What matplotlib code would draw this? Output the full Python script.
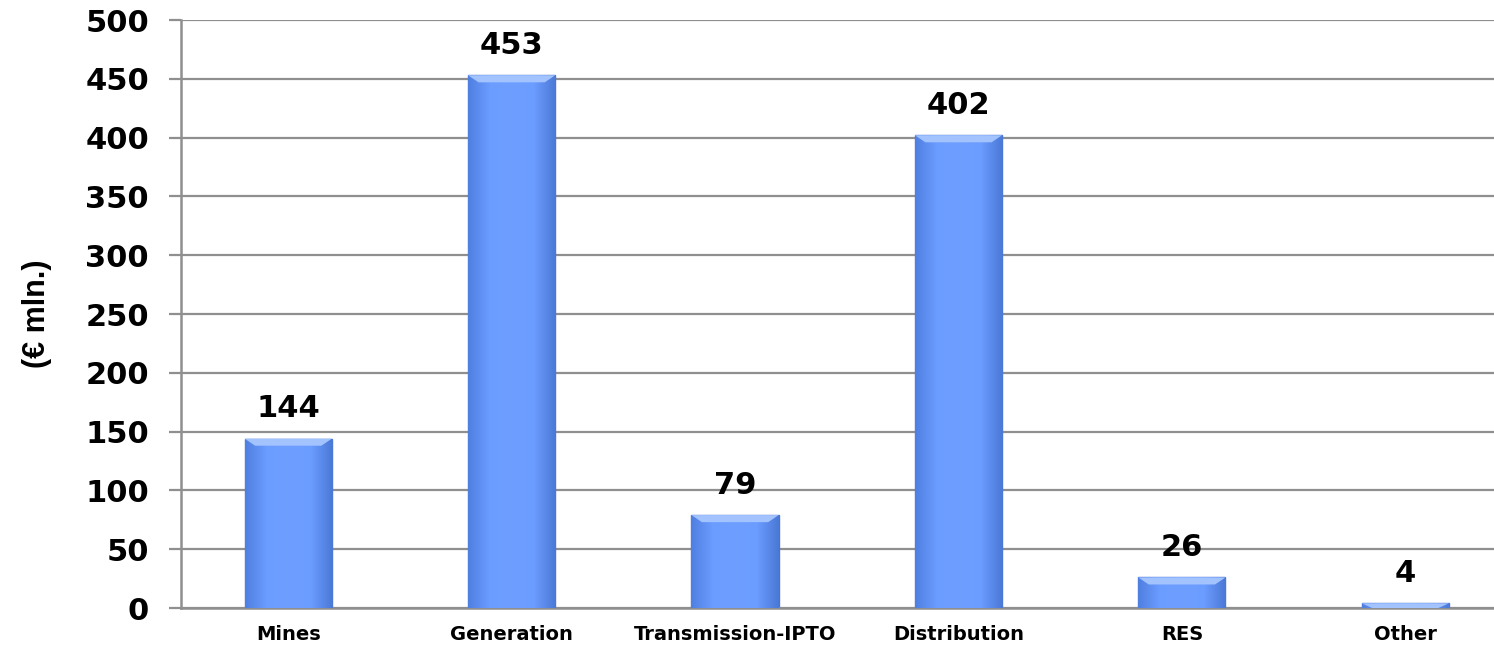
import numpy as np
import matplotlib
matplotlib.use('Agg')
import matplotlib.pyplot as plt
from matplotlib.colors import LinearSegmentedColormap

categories = ['Mines', 'Generation', 'Transmission-IPTO', 'Distribution', 'RES', 'Other']
values = [144, 453, 79, 402, 26, 4]
y_ticks = [0, 50, 100, 150, 200, 250, 300, 350, 400, 450, 500]

grid_color = '#8f8f8f'
bar_cmap = LinearSegmentedColormap.from_list(
    'bar', ['#4f7fe0', '#6b9cff', '#6e9fff', '#6b9cff', '#4a78d6'])


def shade_bar(ax, rect):
    # horizontal gradient clipped to the bar, plus a light bevel on top
    x0, y0 = rect.get_x(), rect.get_y()
    w, h = rect.get_width(), rect.get_height()
    grad = np.linspace(0, 1, 256).reshape(1, -1)
    im = ax.imshow(grad, cmap=bar_cmap, aspect='auto',
                   extent=(x0, x0 + w, y0, y0 + h), zorder=3)
    im.set_clip_path(rect)
    bevel = min(h, 6)
    top = plt.Polygon([(x0, y0 + h), (x0 + w, y0 + h),
                       (x0 + w * 0.88, y0 + h - bevel),
                       (x0 + w * 0.12, y0 + h - bevel)],
                      closed=True, facecolor='#a3c3ff', edgecolor='none',
                      zorder=4)
    ax.add_patch(top)


fig = plt.figure(figsize=(14.94, 6.46), dpi=100)
ax = fig.add_axes([181 / 1494, 38 / 646, 1336 / 1494, 588 / 646])

x = np.arange(len(categories))
bars = ax.bar(x, values, width=0.39, color='#6b9cff', edgecolor='#4a74c9',
              linewidth=1.0, zorder=2)
for rect in bars:
    shade_bar(ax, rect)

for xi, v in zip(x, values):
    ax.annotate(str(v), (xi, v), xytext=(0, 11), textcoords='offset points',
                ha='center', va='bottom', fontsize=22, fontweight='bold',
                color='black', zorder=5)

ax.set_xlim(-0.48, 5.5)
ax.set_ylim(0, 500)
ax.set_yticks(y_ticks)
ax.set_yticklabels([str(t) for t in y_ticks], fontsize=22, fontweight='bold')
ax.set_xticks(x)
ax.set_xticklabels(categories, fontsize=14, fontweight='bold')

ax.yaxis.grid(True, color=grid_color, linewidth=1.6, zorder=0)
ax.set_axisbelow(True)
for side in ['top', 'right']:
    ax.spines[side].set_visible(False)
ax.spines['left'].set_color(grid_color)
ax.spines['left'].set_linewidth(1.8)
ax.spines['bottom'].set_color(grid_color)
ax.spines['bottom'].set_linewidth(1.8)
ax.tick_params(axis='y', direction='out', length=9, width=1.6, color=grid_color,
               pad=14)
ax.tick_params(axis='x', length=0, pad=12)

ax.set_ylabel('(€ mln.)', fontsize=22, fontweight='bold',
              family='Liberation Sans', labelpad=24)

fig.savefig('out.png', dpi=100)
